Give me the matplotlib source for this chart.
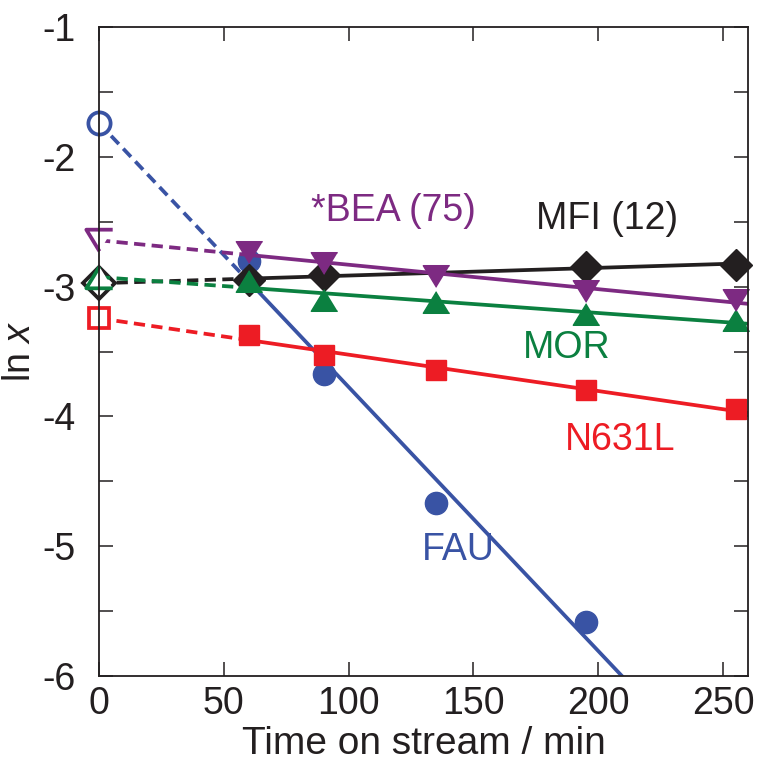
import numpy as np
import matplotlib
matplotlib.use("Agg")
import matplotlib.pyplot as plt
from matplotlib.ticker import MultipleLocator, NullLocator

plt.rcParams['font.family'] = ['Liberation Sans', 'DejaVu Sans']
plt.rcParams['mathtext.fontset'] = 'custom'
plt.rcParams['mathtext.rm'] = 'Liberation Sans'
plt.rcParams['mathtext.it'] = 'Liberation Sans:italic'
plt.rcParams['axes.unicode_minus'] = False

# time on stream (min) and ln x for each catalyst
t_fau = [60, 90, 135, 195]
lnx_fau = [-2.80, -3.67, -4.67, -5.58]

t_mfi = [60, 90, 195, 255]
lnx_mfi = [-2.95, -2.91, -2.85, -2.83]

t_mor = [60, 90, 135, 195, 255]
lnx_mor = [-2.96, -3.10, -3.12, -3.21, -3.26]

t_n631l = [60, 90, 135, 195, 255]
lnx_n631l = [-3.37, -3.53, -3.64, -3.80, -3.94]

t_bea = [60, 90, 135, 195, 255]
lnx_bea = [-2.73, -2.82, -2.92, -3.03, -3.10]

# colours
c_fau = '#3953a4'
c_mfi = '#231f20'
c_mor = '#0b8040'
c_n631l = '#ed1c24'
c_bea = '#7d2a82'

# wider-than-tall triangles like the original
tri_up = [(0, 0.82), (-1, -0.82), (1, -0.82)]
tri_down = [(0, -0.82), (-1, 0.82), (1, 0.82)]

XMAX = 260
LW = 2.7


def draw_series(ax, t, lnx, color, marker, ms):
    # linear fit, dashed back to t=0, solid over the measured range
    slope, icpt = np.polyfit(t, lnx, 1)
    xd = np.array([0, t[0]])
    ax.plot(xd, icpt + slope * xd, color=color, lw=LW, ls=(0, (3.0, 1.7)))
    xs = np.array([t[0], XMAX])
    ax.plot(xs, icpt + slope * xs, color=color, lw=LW)
    ax.plot(t, lnx, ls='none', marker=marker, ms=ms, color=color,
            mec=color, mew=1, clip_on=False)
    # intercept (open symbol)
    ax.plot([0], [icpt], ls='none', marker=marker, ms=ms, mfc='white',
            mec=color, mew=2.7, clip_on=False)


fig = plt.figure(figsize=(7.58, 7.69), dpi=100)
ax = fig.add_axes([0.1306, 0.1209, 0.8562, 0.844])

draw_series(ax, t_fau, lnx_fau, c_fau, 'o', 16)
draw_series(ax, t_mfi, lnx_mfi, c_mfi, 'D', 16)
draw_series(ax, t_n631l, lnx_n631l, c_n631l, 's', 15)
draw_series(ax, t_mor, lnx_mor, c_mor, tri_up, 19)
draw_series(ax, t_bea, lnx_bea, c_bea, tri_down, 19)

fs = 27
ax.text(117.8, -2.42, '*BEA (75)', color=c_bea, fontsize=fs, ha='center', va='center')
ax.text(203.7, -2.48, 'MFI (12)', color=c_mfi, fontsize=fs, ha='center', va='center')
ax.text(187.4, -3.47, 'MOR', color=c_mor, fontsize=fs, ha='center', va='center')
ax.text(208.7, -4.18, 'N631L', color=c_n631l, fontsize=fs, ha='center', va='center')
ax.text(143.8, -5.03, 'FAU', color=c_fau, fontsize=fs, ha='center', va='center')

ax.set_xlim(0, XMAX)
ax.set_ylim(-6, -1)
ax.set_xticks(range(0, 251, 50))
ax.xaxis.set_minor_locator(NullLocator())
ax.yaxis.set_major_locator(MultipleLocator(1))
ax.yaxis.set_minor_locator(MultipleLocator(0.5))
ax.tick_params(which='both', direction='in', length=10, width=1.1,
               top=True, right=True, labelsize=fs, colors='#231f20')
ax.tick_params(axis='y', pad=17)
ax.tick_params(axis='x', pad=7)
for sp in ax.spines.values():
    sp.set_linewidth(1.3)
    sp.set_color('#231f20')

ax.set_xlabel('Time on stream / min', fontsize=28, color='#231f20', labelpad=3)
ax.set_ylabel('ln $x$', fontsize=fs, color='#231f20')
ax.yaxis.set_label_coords(-0.094, 0.5)

fig.savefig('out.png', dpi=100)
